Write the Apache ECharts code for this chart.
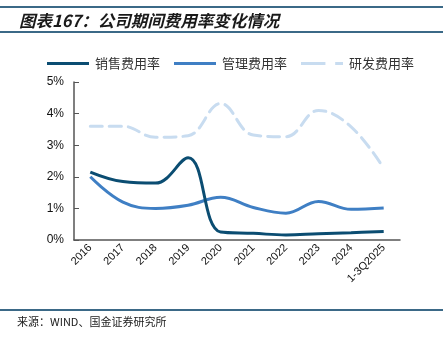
<!DOCTYPE html>
<html>
<head>
<meta charset="utf-8">
<script src="https://cdn.jsdelivr.net/npm/echarts@6/dist/echarts.min.js"></script>
<style>
html,body{margin:0;padding:0;background:#fff;}
#c{width:443px;height:338px;}
</style>
</head>
<body>
<div id="c"></div>
<script>
var categories = ['2016','2017','2018','2019','2020','2021','2022','2023','2024','1-3Q2025'];
var salesRate = [2.15, 1.85, 1.8, 2.6, 0.25, 0.21, 0.16, 0.2, 0.23, 0.27];
var mgmtRate = [2.0, 1.2, 1.0, 1.1, 1.35, 1.03, 0.85, 1.22, 0.97, 1.01];
var rdRate = [3.6, 3.6, 3.25, 3.3, 4.32, 3.32, 3.27, 4.1, 3.58, 2.27];
var yTicks = [0, 1, 2, 3, 4, 5];

var chart = echarts.init(document.getElementById('c'), null, {renderer: 'canvas'});
var cjk = '"Noto Sans CJK SC", sans-serif';
var solidIcon = 'path://M0,0h43v3h-43z';
var dashIcon = 'path://M0,0h25v3h-25z M35,0h8v3h-8z';
function legendItem(name, icon, color) {
  return {name: name, icon: icon,
    itemStyle: {color: color, borderWidth: 0, opacity: 1},
    lineStyle: {width: 0, opacity: 0}};
}
chart.setOption({
  animation: false,
  backgroundColor: '#fff',
  title: {
    text: '图表167：公司期间费用率变化情况',
    left: 14, top: 7,
    textStyle: {fontFamily: cjk, fontSize: 16.5, fontWeight: 'bold', fontStyle: 'italic', color: '#1a1a1a'}
  },
  graphic: [
    {type: 'rect', shape: {x: 0, y: 6, width: 443, height: 2}, style: {fill: '#3b6987'}},
    {type: 'rect', shape: {x: 0, y: 31, width: 443, height: 2}, style: {fill: '#3b6987'}},
    {type: 'rect', shape: {x: 0, y: 309, width: 443, height: 2}, style: {fill: '#3b6987'}},
    {type: 'text', left: 17, top: 316, style: {text: '来源：WIND、国金证券研究所', font: '11px "Noto Sans CJK SC", sans-serif', fill: '#1a1a1a'}}
  ],
  legend: {
    left: 42, top: 52,
    itemWidth: 42, itemHeight: 3, itemGap: 14,
    textStyle: {fontFamily: cjk, fontSize: 13, color: '#333', padding: [0, 0, 0, 1]},
    data: [
      legendItem('销售费用率', solidIcon, '#0b4d72'),
      legendItem('管理费用率', solidIcon, '#3f7fc4'),
      legendItem('研发费用率', dashIcon, '#c8dcf0')
    ]
  },
  grid: {left: 74, right: 43, top: 82, bottom: 98, containLabel: false},
  xAxis: {
    type: 'category',
    data: categories,
    boundaryGap: true,
    axisLine: {lineStyle: {color: '#555', width: 1.5}},
    axisTick: {inside: true, length: 5, lineStyle: {color: '#555'}},
    axisLabel: {rotate: 45, fontFamily: 'Liberation Sans, Arial', fontSize: 11, color: '#111', margin: 6}
  },
  yAxis: {
    type: 'value',
    min: 0, max: 5, interval: 1,
    axisLine: {show: true, lineStyle: {color: '#555', width: 1.5}},
    axisTick: {show: true, inside: true, length: 5, lineStyle: {color: '#555'}},
    splitLine: {show: false},
    axisLabel: {fontFamily: 'Liberation Sans, Arial', fontSize: 12, color: '#111', margin: 10,
      formatter: function (v) { return yTicks.indexOf(v) >= 0 ? v + '%' : ''; }}
  },
  series: [
    {name: '销售费用率', type: 'line', data: salesRate, smooth: 0.4, symbol: 'none',
      lineStyle: {color: '#0b4d72', width: 3}, itemStyle: {color: '#0b4d72'}, z: 4},
    {name: '管理费用率', type: 'line', data: mgmtRate, smooth: 0.4, symbol: 'none',
      lineStyle: {color: '#3f7fc4', width: 3}, itemStyle: {color: '#3f7fc4'}, z: 3},
    {name: '研发费用率', type: 'line', data: rdRate, smooth: 0.4, symbol: 'none',
      lineStyle: {color: '#c8dcf0', width: 3, type: [12, 7], cap: 'round'}, itemStyle: {color: '#c8dcf0'}, z: 2}
  ]
});
</script>
</body>
</html>
